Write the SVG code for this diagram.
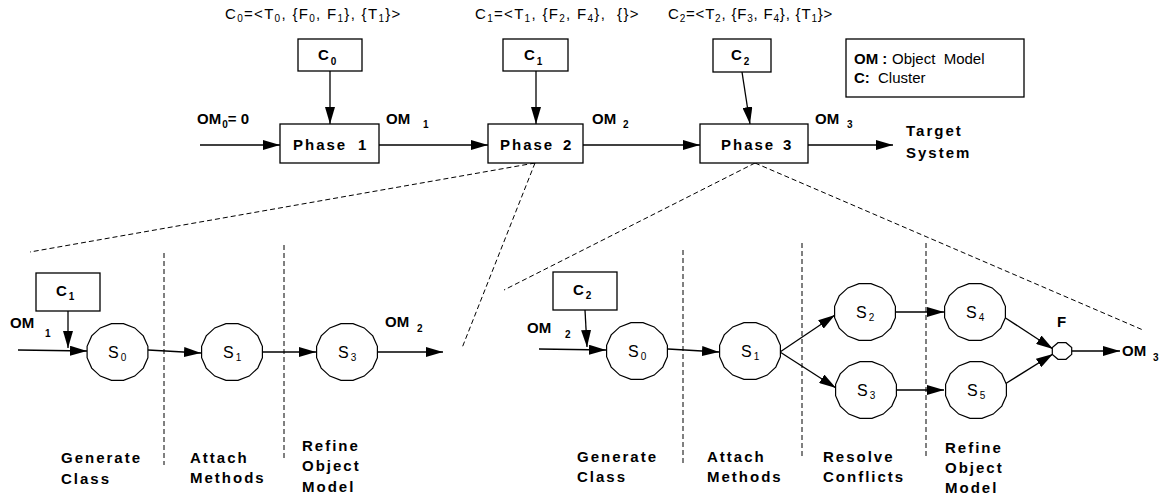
<svg xmlns="http://www.w3.org/2000/svg" xmlns:xlink="http://www.w3.org/1999/xlink" width="1160" height="502" viewBox="0 0 1160 502">
<style>
.ln{stroke:#000;stroke-width:1.3;fill:none}
.dash{stroke:#000;stroke-width:1;stroke-dasharray:5,3;fill:none}
.box{fill:#fff;stroke:#000;stroke-width:1.3}
.st{fill:#fff;stroke:#000;stroke-width:1.2}
.b{font-family:"Liberation Sans",Arial,sans-serif;font-weight:bold;font-size:15px;fill:#000}
.r{font-family:"Liberation Sans",Arial,sans-serif;font-size:15px;fill:#000}
.sl{font-family:"Liberation Sans",Arial,sans-serif;font-size:16px;fill:#000}
.sp{letter-spacing:2px}
.cap{letter-spacing:1.3px}
.s{font-size:10px}
</style>
<defs>
<marker id="ah" markerWidth="17" markerHeight="10" refX="17" refY="5" orient="auto" markerUnits="userSpaceOnUse"><path d="M0,0 L17,5 L0,10 z" fill="#000"/></marker>
<polygon id="stp" class="st" points="30.4,5.7 25.8,16.1 17.2,24.1 6,28.4 -6,28.4 -17.2,24.1 -25.8,16.1 -30.4,5.7 -30.4,-5.7 -25.8,-16.1 -17.2,-24.1 -6,-28.4 6,-28.4 17.2,-24.1 25.8,-16.1 30.4,-5.7"/>
<polygon id="fp" class="st" points="9.7,3.4 4,8.3 -4,8.3 -9.7,3.4 -9.7,-3.4 -4,-8.3 4,-8.3 9.7,-3.4"/>
</defs>

<!-- captions -->
<g id="captions">
<text class="r cap" x="225" y="19" xml:space="preserve">C<tspan class="s" dy="3">0</tspan><tspan dy="-3">=&lt;T</tspan><tspan class="s" dy="3">0</tspan><tspan dy="-3">, {F</tspan><tspan class="s" dy="3">0</tspan><tspan dy="-3">, F</tspan><tspan class="s" dy="3">1</tspan><tspan dy="-3">}, {T</tspan><tspan class="s" dy="3">1</tspan><tspan dy="-3">}&gt;</tspan></text>
<text class="r cap" x="475" y="19" xml:space="preserve">C<tspan class="s" dy="3">1</tspan><tspan dy="-3">=&lt;T</tspan><tspan class="s" dy="3">1</tspan><tspan dy="-3">, {F</tspan><tspan class="s" dy="3">2</tspan><tspan dy="-3">, F</tspan><tspan class="s" dy="3">4</tspan><tspan dy="-3">},  {}&gt;</tspan></text>
<text class="r" x="668" y="19" style="letter-spacing:0.8px" xml:space="preserve">C<tspan class="s" dy="3">2</tspan><tspan dy="-3">=&lt;T</tspan><tspan class="s" dy="3">2</tspan><tspan dy="-3">, {F</tspan><tspan class="s" dy="3">3</tspan><tspan dy="-3">, F</tspan><tspan class="s" dy="3">4</tspan><tspan dy="-3">}, {T</tspan><tspan class="s" dy="3">1</tspan><tspan dy="-3">}&gt;</tspan></text>
</g>

<!-- connectors -->
<g id="connectors">
<line class="ln" x1="330" y1="71" x2="330" y2="124" marker-end="url(#ah)"/>
<line class="ln" x1="536" y1="71" x2="536" y2="124" marker-end="url(#ah)"/>
<line class="ln" x1="742" y1="72" x2="750" y2="124" marker-end="url(#ah)"/>
<line class="ln" x1="200" y1="145" x2="280" y2="145" marker-end="url(#ah)"/>
<line class="ln" x1="379" y1="145" x2="488" y2="145" marker-end="url(#ah)"/>
<line class="ln" x1="583" y1="145" x2="700" y2="145" marker-end="url(#ah)"/>
<line class="ln" x1="808" y1="145" x2="893" y2="145" marker-end="url(#ah)"/>

<line class="dash" x1="535" y1="163" x2="30" y2="252"/>
<line class="dash" x1="535" y1="163" x2="462" y2="348"/>
<line class="dash" x1="755" y1="163" x2="504" y2="290"/>
<line class="dash" x1="755" y1="163" x2="1143" y2="330"/>

<line class="dash" x1="164" y1="253" x2="164" y2="465"/>
<line class="dash" x1="284" y1="245" x2="284" y2="458"/>
<line class="dash" x1="683" y1="250" x2="683" y2="463"/>
<line class="dash" x1="802" y1="243" x2="802" y2="456"/>
<line class="dash" x1="926" y1="243" x2="926" y2="456"/>

<line class="ln" x1="68" y1="311" x2="68" y2="348" marker-end="url(#ah)"/>
<line class="ln" x1="18" y1="350" x2="87" y2="351" marker-end="url(#ah)"/>
<line class="ln" x1="148" y1="350" x2="201" y2="353" marker-end="url(#ah)"/>
<line class="ln" x1="263" y1="352" x2="316" y2="352" marker-end="url(#ah)"/>
<line class="ln" x1="378" y1="352" x2="443" y2="352" marker-end="url(#ah)"/>

<line class="ln" x1="585" y1="310" x2="587" y2="347" marker-end="url(#ah)"/>
<line class="ln" x1="539" y1="349" x2="606" y2="350" marker-end="url(#ah)"/>
<line class="ln" x1="668" y1="349" x2="719" y2="352" marker-end="url(#ah)"/>
<line class="ln" x1="780" y1="352" x2="835" y2="315" marker-end="url(#ah)"/>
<line class="ln" x1="780" y1="352" x2="836" y2="388" marker-end="url(#ah)"/>
<line class="ln" x1="895" y1="312" x2="944" y2="312" marker-end="url(#ah)"/>
<line class="ln" x1="896" y1="390" x2="944" y2="390" marker-end="url(#ah)"/>
<line class="ln" x1="1004" y1="317" x2="1053" y2="349" marker-end="url(#ah)"/>
<line class="ln" x1="1005" y1="384" x2="1053" y2="354" marker-end="url(#ah)"/>
<line class="ln" x1="1072" y1="351" x2="1120" y2="351" marker-end="url(#ah)"/>
</g>

<!-- top row nodes -->
<g id="C0"><rect class="box" x="298" y="39" width="64" height="32"/><text class="b" x="318" y="60">C<tspan class="s" dx="2" dy="5">0</tspan></text></g>
<g id="C1"><rect class="box" x="503" y="39" width="65" height="32"/><text class="b" x="524" y="60">C<tspan class="s" dx="2" dy="5">1</tspan></text></g>
<g id="C2"><rect class="box" x="713" y="39" width="58" height="33"/><text class="b" x="731" y="60">C<tspan class="s" dx="2" dy="5">2</tspan></text></g>

<g id="Phase1"><rect class="box" x="280" y="124" width="99" height="39"/><text class="b sp" x="293" y="150">Phase</text><text class="b" x="358" y="150">1</text></g>
<g id="Phase2"><rect class="box" x="488" y="124" width="95" height="39"/><text class="b sp" x="500" y="150">Phase</text><text class="b" x="563" y="150">2</text></g>
<g id="Phase3"><rect class="box" x="700" y="124" width="108" height="39"/><text class="b sp" x="721" y="150">Phase</text><text class="b" x="783" y="150">3</text></g>

<g id="legend"><rect class="box" x="846" y="39" width="178" height="58"/>
<text class="b" x="854" y="64">OM :</text><text class="r" x="892" y="64" xml:space="preserve">Object  Model</text>
<text class="b" x="854" y="83">C:</text><text class="r" x="878" y="83">Cluster</text></g>

<g id="top-labels">
<text class="b" x="197" y="124">OM<tspan class="s" dx="1" dy="4">0</tspan><tspan dy="-4">= 0</tspan></text>
<text class="b" x="386" y="124">OM</text><text class="b s" x="423" y="128">1</text>
<text class="b" x="592" y="124">OM</text><text class="b s" x="623" y="128">2</text>
<text class="b" x="815" y="124">OM</text><text class="b s" x="847" y="128">3</text>
<text class="b sp" x="906" y="136">Target</text>
<text class="b sp" x="906" y="158">System</text>
</g>

<!-- phase 2 detail -->
<g id="L-C1"><rect class="box" x="36" y="273" width="64" height="38"/><text class="b" x="56" y="296">C<tspan class="s" dx="2" dy="4">1</tspan></text></g>
<g id="L-S0"><use xlink:href="#stp" x="117.5" y="352"/><text class="sl" x="108" y="358">S<tspan class="s" dx="2" dy="3">0</tspan></text></g>
<g id="L-S1"><use xlink:href="#stp" x="232" y="352"/><text class="sl" x="223" y="358">S<tspan class="s" dx="2" dy="3">1</tspan></text></g>
<g id="L-S3"><use xlink:href="#stp" x="347" y="352"/><text class="sl" x="338" y="358">S<tspan class="s" dx="2" dy="3">3</tspan></text></g>
<g id="L-labels">
<text class="b" x="10" y="328">OM</text><text class="b s" x="45" y="337">1</text>
<text class="b" x="385" y="327">OM</text><text class="b s" x="417" y="332">2</text>
<text class="b sp" x="61" y="463">Generate</text><text class="b sp" x="61" y="484">Class</text>
<text class="b sp" x="190" y="463">Attach</text><text class="b sp" x="190" y="483">Methods</text>
<text class="b sp" x="302" y="451">Refine</text><text class="b sp" x="302" y="471">Object</text><text class="b sp" x="302" y="492">Model</text>
</g>

<!-- phase 3 detail -->
<g id="R-C2"><rect class="box" x="553" y="272" width="64" height="38"/><text class="b" x="573" y="295">C<tspan class="s" dx="2" dy="4">2</tspan></text></g>
<g id="R-S0"><use xlink:href="#stp" x="637" y="351"/><text class="sl" x="628" y="357">S<tspan class="s" dx="2" dy="3">0</tspan></text></g>
<g id="R-S1"><use xlink:href="#stp" x="750" y="351"/><text class="sl" x="741" y="357">S<tspan class="s" dx="2" dy="3">1</tspan></text></g>
<g id="R-S2"><use xlink:href="#stp" x="865" y="312"/><text class="sl" x="856" y="318">S<tspan class="s" dx="2" dy="3">2</tspan></text></g>
<g id="R-S3"><use xlink:href="#stp" x="866" y="390"/><text class="sl" x="857" y="396">S<tspan class="s" dx="2" dy="3">3</tspan></text></g>
<g id="R-S4"><use xlink:href="#stp" x="975" y="312"/><text class="sl" x="966" y="318">S<tspan class="s" dx="2" dy="3">4</tspan></text></g>
<g id="R-S5"><use xlink:href="#stp" x="976" y="390"/><text class="sl" x="967" y="396">S<tspan class="s" dx="2" dy="3">5</tspan></text></g>
<g id="R-F"><use xlink:href="#fp" x="1062" y="351"/><text class="b" x="1057" y="327">F</text></g>
<g id="R-labels">
<text class="b" x="527" y="333">OM</text><text class="b s" x="565" y="338">2</text>
<text class="b" x="1122" y="356">OM</text><text class="b s" x="1153" y="361">3</text>
<text class="b sp" x="577" y="462">Generate</text><text class="b sp" x="577" y="482">Class</text>
<text class="b sp" x="707" y="462">Attach</text><text class="b sp" x="707" y="482">Methods</text>
<text class="b sp" x="823" y="462">Resolve</text><text class="b sp" x="823" y="482">Conflicts</text>
<text class="b sp" x="945" y="453">Refine</text><text class="b sp" x="945" y="473">Object</text><text class="b sp" x="945" y="493">Model</text>
</g>
</svg>
